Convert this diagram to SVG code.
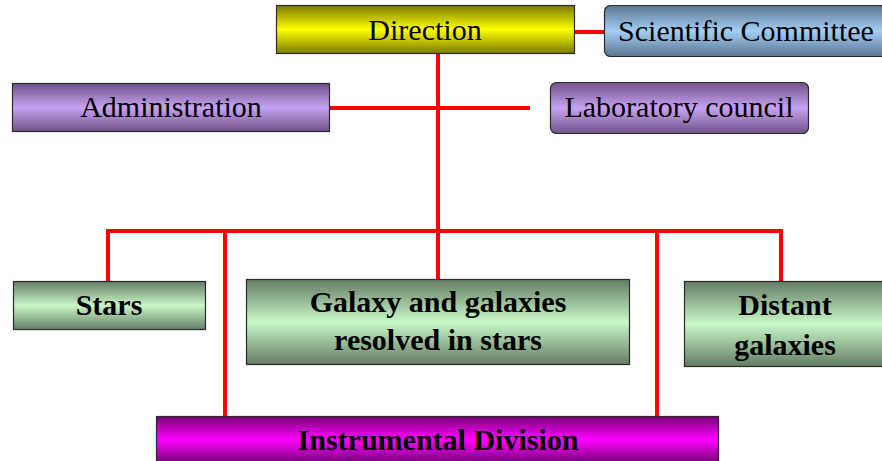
<svg xmlns="http://www.w3.org/2000/svg" width="882" height="461" viewBox="0 0 882 461">
<defs>
<linearGradient id="gY" x1="0" y1="0" x2="0" y2="1"><stop offset="0" stop-color="#7a7a00"/><stop offset="0.5" stop-color="#ffff00"/><stop offset="1" stop-color="#7a7a00"/></linearGradient>
<linearGradient id="gB" x1="0" y1="0" x2="0" y2="1"><stop offset="0" stop-color="#5a7690"/><stop offset="0.5" stop-color="#a4cef6"/><stop offset="1" stop-color="#5a7690"/></linearGradient>
<linearGradient id="gP" x1="0" y1="0" x2="0" y2="1"><stop offset="0" stop-color="#6e5288"/><stop offset="0.5" stop-color="#c8a2f2"/><stop offset="1" stop-color="#6e5288"/></linearGradient>
<linearGradient id="gG" x1="0" y1="0" x2="0" y2="1"><stop offset="0" stop-color="#647c64"/><stop offset="0.5" stop-color="#c8f8c8"/><stop offset="1" stop-color="#647c64"/></linearGradient>
<linearGradient id="gM" x1="0" y1="0" x2="0" y2="1"><stop offset="0" stop-color="#7a007a"/><stop offset="0.5" stop-color="#ff00ff"/><stop offset="1" stop-color="#7a007a"/></linearGradient>
</defs>
<style>
.box{stroke:#2a2a2a;stroke-width:1.2}
.t{font-family:"Liberation Serif","Times New Roman",serif;font-size:30px;fill:#000;text-anchor:middle}
.b{font-weight:bold}
.c{fill:none;stroke:#ff0000;stroke-width:4}
</style>
<g id="connectors">
<line class="c" x1="575" y1="32" x2="604" y2="32"/>
<line class="c" x1="438" y1="53" x2="438" y2="280"/>
<line class="c" x1="330" y1="108" x2="530" y2="108"/>
<polyline class="c" points="108,281 108,231 781,231 781,281"/>
<line class="c" x1="225" y1="231" x2="225" y2="416"/>
<line class="c" x1="657" y1="231" x2="657" y2="416"/>
</g>
<g id="direction"><rect class="box" x="276.5" y="5.5" width="298" height="48" fill="url(#gY)"/><text class="t" x="425" y="40">Direction</text></g>
<g id="scientific-committee"><rect class="box" x="604.5" y="5.5" width="282" height="51" rx="6" fill="url(#gB)"/><text class="t" x="746" y="41">Scientific Committee</text></g>
<g id="administration"><rect class="box" x="12.5" y="83.5" width="317" height="48" fill="url(#gP)"/><text class="t" x="171" y="117">Administration</text></g>
<g id="laboratory-council"><rect class="box" x="550.5" y="82.5" width="258" height="51" rx="6" fill="url(#gP)"/><text class="t" x="679" y="117">Laboratory council</text></g>
<g id="stars"><rect class="box" x="13.5" y="281.5" width="192" height="48" fill="url(#gG)"/><text class="t b" x="109" y="315">Stars</text></g>
<g id="galaxy"><rect class="box" x="246.5" y="279.5" width="383" height="85" fill="url(#gG)"/><text class="t b" x="438" y="312">Galaxy and galaxies</text><text class="t b" x="438" y="350">resolved in stars</text></g>
<g id="distant-galaxies"><rect class="box" x="684.5" y="281.5" width="202" height="85" fill="url(#gG)"/><text class="t b" x="785" y="315">Distant</text><text class="t b" x="785" y="355">galaxies</text></g>
<g id="instrumental-division"><rect class="box" x="156.5" y="416.5" width="562" height="46" fill="url(#gM)"/><text class="t b" x="438" y="450">Instrumental Division</text></g>
</svg>
